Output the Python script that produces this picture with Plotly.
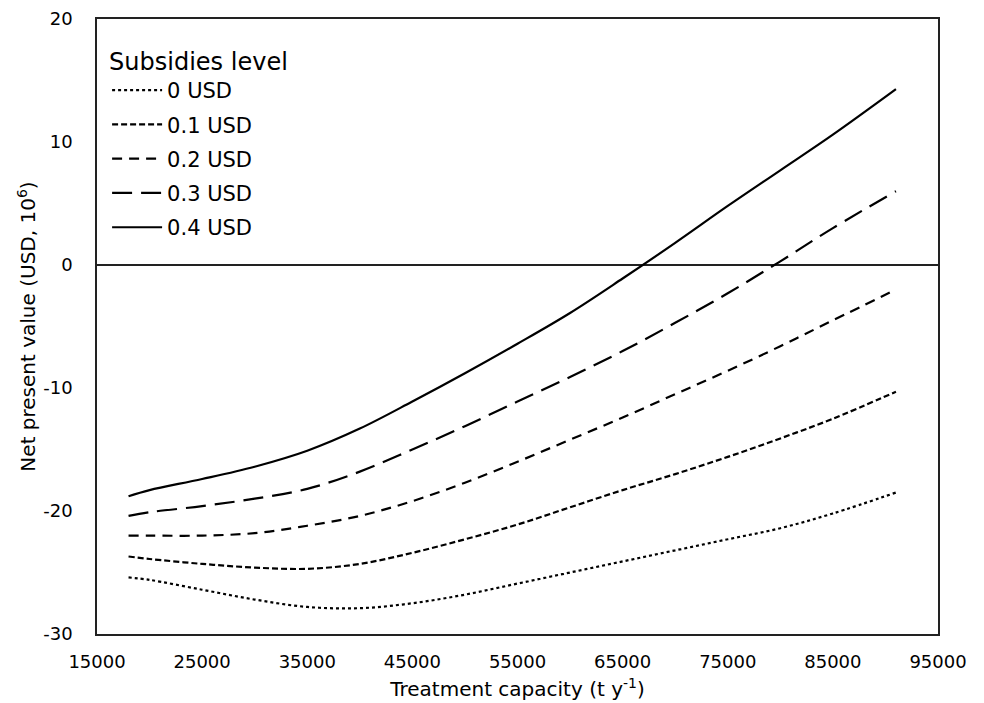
import plotly.graph_objects as go

capacity = [18000, 20000, 25000, 30000, 35000, 40000, 45000, 50000, 55000,
            60000, 65000, 70000, 75000, 80000, 85000, 91000]

npv_0 = [-25.4, -25.6, -26.4, -27.2, -27.8, -27.9, -27.5, -26.8, -25.9,
         -25.0, -24.1, -23.2, -22.3, -21.4, -20.2, -18.5]
npv_01 = [-23.7, -23.9, -24.3, -24.6, -24.7, -24.3, -23.4, -22.3, -21.1,
          -19.7, -18.3, -17.0, -15.6, -14.1, -12.5, -10.3]
npv_02 = [-22.0, -22.0, -22.0, -21.8, -21.2, -20.4, -19.2, -17.7, -16.0,
          -14.2, -12.4, -10.5, -8.6, -6.6, -4.5, -2.0]
npv_03 = [-20.4, -20.1, -19.6, -19.0, -18.2, -16.8, -15.0, -13.1, -11.1,
          -9.1, -7.0, -4.7, -2.3, 0.3, 3.0, 6.0]
npv_04 = [-18.8, -18.3, -17.4, -16.4, -15.1, -13.3, -11.1, -8.8, -6.4,
          -3.9, -1.1, 1.8, 4.8, 7.7, 10.6, 14.3]

series_names = ["0 USD", "0.1 USD", "0.2 USD", "0.3 USD", "0.4 USD"]
series_values = [npv_0, npv_01, npv_02, npv_03, npv_04]
dashes = ["dot", "6px,3px", "10px,7px", "20px,9px", "solid"]

x_ticks = [15000, 25000, 35000, 45000, 55000, 65000, 75000, 85000, 95000]
y_ticks = [-30, -20, -10, 0, 10, 20]

FONT = "DejaVu Sans"

fig = go.Figure()
for i, (name, vals, dash) in enumerate(zip(series_names, series_values, dashes)):
    fig.add_trace(go.Scatter(
        x=capacity, y=vals, mode="lines", name=name, legendgroup=f"g{i}",
        line=dict(color="black", width=2.2, dash=dash, shape="spline", smoothing=1.0),
    ))

axis_common = dict(
    showline=True, linecolor="#222", linewidth=1.5, mirror=True, automargin=False,
    showgrid=False, ticks="", tickfont=dict(family=FONT, size=18, color="black"),
)

# the page body adds an 8px offset, so margins compensate for it
fig.update_layout(
    width=984, height=703,
    paper_bgcolor="white", plot_bgcolor="white",
    margin=dict(l=89, r=54, t=11, b=77),
    font=dict(family=FONT, color="black"),
    showlegend=True,
    legend=dict(
        x=0.012, y=0.968, xanchor="left", yanchor="top",
        title=dict(text="Subsidies level", font=dict(family=FONT, size=24, color="black")),
        font=dict(family=FONT, size=21, color="black"),
        bgcolor="rgba(255,255,255,0)", tracegroupgap=4, itemwidth=50,
    ),
    xaxis=dict(
        range=[15000, 95000], tickvals=x_ticks, ticktext=[str(v) for v in x_ticks],
        zeroline=False, ticklabelstandoff=11,
        title=dict(text="Treatment capacity (t y<sup>-1</sup>)",
                   font=dict(family=FONT, size=20, color="black"), standoff=11),
        **axis_common,
    ),
    yaxis=dict(
        range=[-30, 20], tickvals=y_ticks, ticktext=[str(v) for v in y_ticks],
        zeroline=True, zerolinecolor="#222", zerolinewidth=1.5, ticklabelstandoff=19,
        title=dict(text="Net present value (USD, 10<sup>6</sup>)",
                   font=dict(family=FONT, size=20, color="black"), standoff=2),
        **axis_common,
    ),
)

fig.write_html("out.html")
